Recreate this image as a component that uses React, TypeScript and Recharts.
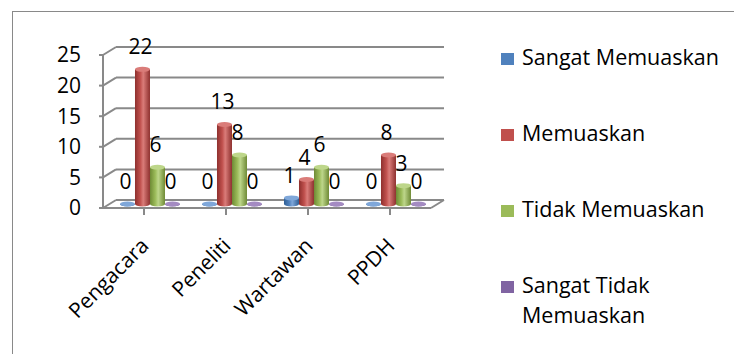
import { BarChart, Bar, XAxis, YAxis, CartesianGrid, Legend, LabelList } from "recharts";

const categories = ["Pengacara", "Peneliti", "Wartawan", "PPDH"];
const sangatMemuaskan = [0, 0, 1, 0];
const memuaskan = [22, 13, 4, 8];
const tidakMemuaskan = [6, 8, 6, 3];
const sangatTidakMemuaskan = [0, 0, 0, 0];
const yTicks = [0, 5, 10, 15, 20, 25];

const series = [
  { key: "sm", name: "Sangat Memuaskan", values: sangatMemuaskan, color: "#4F81BD", light: "#7FA7D9", dark: "#2F5F95" },
  { key: "m", name: "Memuaskan", values: memuaskan, color: "#C0504D", light: "#DA7C79", dark: "#8E302E" },
  { key: "tm", name: "Tidak Memuaskan", values: tidakMemuaskan, color: "#9BBB59", light: "#BDD68A", dark: "#6E8A35" },
  { key: "stm", name: "Sangat Tidak Memuaskan", values: sangatTidakMemuaskan, color: "#8064A2", light: "#A48BC2", dark: "#5B4378" },
];

const data = categories.map((name, i) => {
  const row: any = { name };
  series.forEach((s) => (row[s.key] = s.values[i]));
  return row;
});

const FONT = "'Open Sans', sans-serif";
const GRID = "#898989";
// shift of bars into the middle of the 3d floor
const BX = 6;
const BY = -4;
// back wall offset
const WX = 13;
const WY = -8;

const cylinder = (s: any) => (p: any) => {
  const x = p.x + BX;
  const w = p.width;
  const top = p.y + BY;
  const base = p.y + p.height + BY;
  const rx = w / 2;
  const ry = 2.5;
  return (
    <g>
      <path
        d={`M${x},${top} L${x},${base} A${rx},${ry} 0 0 0 ${x + w},${base} L${x + w},${top} Z`}
        fill={`url(#grad-${s.key})`}
      />
      <ellipse cx={x + rx} cy={top} rx={rx} ry={ry} fill={s.light} />
    </g>
  );
};

const valueLabel = (p: any) => (
  <text
    x={p.x + BX + p.width / 2 - 2}
    y={p.y + BY - 23}
    textAnchor="middle"
    dominantBaseline="central"
    fontSize={21}
    fontFamily={FONT}
    fill="#000"
  >
    {p.value}
  </text>
);

const gridLine = (p: any) => {
  const { x1, x2, y1, index } = p;
  const isFloor = Math.abs(y1 - 208) < 1;
  return (
    <g key={`gl-${index}`}>
      <line x1={x1} y1={y1} x2={x1 + WX} y2={y1 + WY} stroke={GRID} strokeWidth={2} />
      <line x1={x1 + WX} y1={y1 + WY} x2={x2 + WX} y2={y1 + WY} stroke={GRID} strokeWidth={2} />
      {isFloor && <line x1={x2} y1={y1} x2={x2 + WX} y2={y1 + WY} stroke={GRID} strokeWidth={2} />}
    </g>
  );
};

const xTick = (p: any) => (
  <g transform={`translate(${p.x + 6},${p.y + 30})`}>
    <text textAnchor="end" transform="rotate(-45)" fontSize={21} fontFamily={FONT} fill="#000">
      {p.payload.value}
    </text>
  </g>
);

const legendContent = () => (
  <div style={{ position: "relative", width: 234, height: 300, fontFamily: FONT, fontSize: 21.5, color: "#000" }}>
    {series.map((s, i) => (
      <div key={s.key} style={{ position: "absolute", left: 0, top: i * 76, display: "flex", alignItems: "flex-start" }}>
        <div style={{ width: 13, height: 12, background: s.color, marginTop: 11, marginRight: 8 }} />
        <div style={{ width: 205, lineHeight: "30px" }}>{s.name}</div>
      </div>
    ))}
  </div>
);

export default function App() {
  return (
    <div style={{ position: "absolute", left: 0, top: 0, width: 734, height: 354, overflow: "hidden", background: "#fff" }}>
      <div
        style={{
          position: "absolute",
          left: 12,
          top: 11,
          width: 780,
          height: 400,
          border: `1.5px solid ${GRID}`,
        }}
      />
      <div style={{ position: "absolute", left: 0, top: 0 }}>
        <BarChart
          width={734}
          height={354}
          data={data}
          margin={{ top: 55, right: 303, left: 43, bottom: 116 }}
          barCategoryGap="13.4%"
          barGap={0}
        >
          <defs>
            {series.map((s) => (
              <linearGradient key={s.key} id={`grad-${s.key}`} x1="0" y1="0" x2="1" y2="0">
                <stop offset="0%" stopColor={s.dark} />
                <stop offset="35%" stopColor={s.color} />
                <stop offset="55%" stopColor={s.light} />
                <stop offset="100%" stopColor={s.dark} />
              </linearGradient>
            ))}
          </defs>
          <CartesianGrid horizontal={gridLine} vertical={false} />
          <XAxis
            dataKey="name"
            height={30}
            tickSize={7}
            tick={xTick}
            interval={0}
            axisLine={{ stroke: GRID, strokeWidth: 2 }}
            tickLine={{ stroke: GRID, strokeWidth: 2 }}
          />
          <YAxis
            width={60}
            domain={[0, 25]}
            ticks={yTicks}
            interval={0}
            tickSize={4}
            tickMargin={18}
            axisLine={{ stroke: GRID, strokeWidth: 2 }}
            tickLine={{ stroke: GRID, strokeWidth: 2 }}
            tick={{ fill: "#000", fontSize: 21, fontFamily: FONT }}
          />
          <Legend
            layout="vertical"
            align="center"
            verticalAlign="middle"
            content={legendContent}
            wrapperStyle={{ left: 501, top: 42, width: 234 }}
          />
          {series.map((s) => (
            <Bar key={s.key} dataKey={s.key} name={s.name} fill={s.color} isAnimationActive={false} shape={cylinder(s)}>
              <LabelList dataKey={s.key} content={valueLabel} />
            </Bar>
          ))}
        </BarChart>
      </div>
    </div>
  );
}
